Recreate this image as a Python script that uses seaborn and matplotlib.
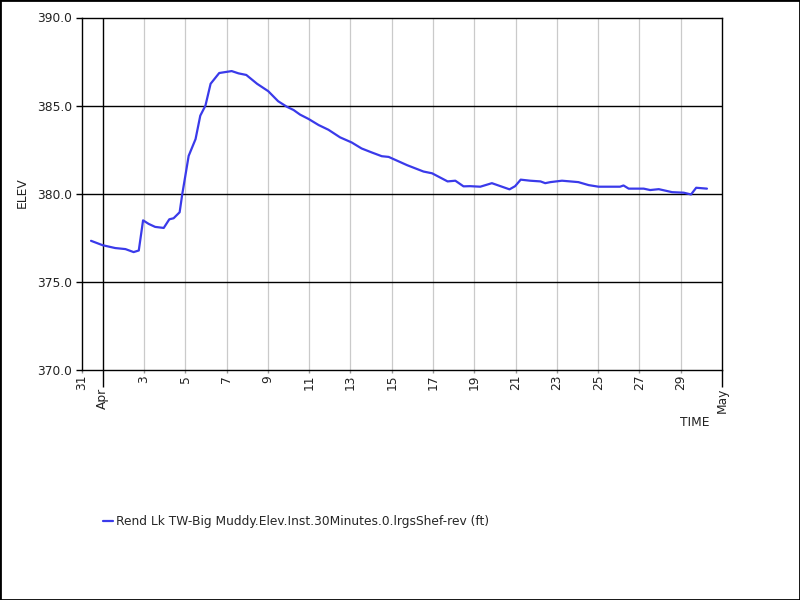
import matplotlib
matplotlib.use("Agg")
import matplotlib.pyplot as plt
import matplotlib.dates as mdates
from matplotlib.patches import Rectangle
import pandas as pd
import seaborn as sns

times = [
    "2024-03-31 10:30", "2024-04-01 00:00", "2024-04-01 14:30", "2024-04-02 02:30",
    "2024-04-02 12:00", "2024-04-02 18:00", "2024-04-02 23:00", "2024-04-03 05:30",
    "2024-04-03 13:00", "2024-04-03 23:00", "2024-04-04 05:30", "2024-04-04 10:30",
    "2024-04-04 17:30", "2024-04-04 20:30", "2024-04-05 04:00", "2024-04-05 12:00",
    "2024-04-05 17:30", "2024-04-05 23:30", "2024-04-06 05:30", "2024-04-06 15:30",
    "2024-04-07 06:00", "2024-04-07 14:00", "2024-04-07 23:00", "2024-04-08 11:30",
    "2024-04-09 00:30", "2024-04-09 12:00", "2024-04-09 22:00", "2024-04-10 06:00",
    "2024-04-10 13:30", "2024-04-10 23:30", "2024-04-11 11:00", "2024-04-11 22:30",
    "2024-04-12 12:00", "2024-04-13 01:30", "2024-04-13 13:00", "2024-04-14 01:00",
    "2024-04-14 12:30", "2024-04-14 20:30", "2024-04-15 18:00", "2024-04-16 13:00",
    "2024-04-16 23:00", "2024-04-17 17:00", "2024-04-18 02:00", "2024-04-18 11:30",
    "2024-04-18 19:00", "2024-04-19 07:00", "2024-04-19 20:30", "2024-04-20 17:00",
    "2024-04-20 23:30", "2024-04-21 06:00", "2024-04-21 17:00", "2024-04-22 05:00",
    "2024-04-22 10:30", "2024-04-22 16:30", "2024-04-23 06:00", "2024-04-24 01:00",
    "2024-04-24 13:00", "2024-04-25 00:30", "2024-04-26 01:30", "2024-04-26 05:30",
    "2024-04-26 11:30", "2024-04-27 05:00", "2024-04-27 12:30", "2024-04-27 22:30",
    "2024-04-28 14:00", "2024-04-29 03:30", "2024-04-29 12:00", "2024-04-29 18:00",
    "2024-04-30 06:30",
]
elev = [
    377.33, 377.08, 376.92, 376.86,
    376.69, 376.78, 378.49, 378.29,
    378.12, 378.06, 378.55, 378.61,
    378.95, 379.96, 382.15, 383.10,
    384.43, 385.00, 386.24, 386.85,
    386.96, 386.83, 386.74, 386.24,
    385.82, 385.25, 384.94, 384.75,
    384.49, 384.24, 383.90, 383.63,
    383.20, 382.91, 382.57, 382.34,
    382.13, 382.09, 381.62, 381.26,
    381.16, 380.70, 380.74, 380.42,
    380.43, 380.40, 380.60, 380.25,
    380.43, 380.80, 380.74, 380.70,
    380.60, 380.66, 380.74, 380.66,
    380.49, 380.40, 380.40, 380.47,
    380.29, 380.29, 380.21, 380.26,
    380.09, 380.06, 379.96, 380.34,
    380.29,
]
series_name = "Rend Lk TW-Big Muddy.Elev.Inst.30Minutes.0.lrgsShef-rev (ft)"

x_start, x_end = "2024-03-31", "2024-05-01"
day_ticks = ["2024-03-31"] + [f"2024-04-{d:02d}" for d in range(3, 30, 2)]
day_labels = ["31"] + [str(d) for d in range(3, 30, 2)]
month_ticks = ["2024-04-01", "2024-05-01"]
month_labels = ["Apr", "May"]
y_ticks = [370, 375, 380, 385, 390]

FS = 8.8

sns.set_theme(style="white")
plt.rcParams["font.family"] = ["DejaVu Sans"]

df = pd.DataFrame({"time": pd.to_datetime(times), "elev": elev})

fig = plt.figure(figsize=(8, 6), dpi=100)
ax = fig.add_axes([82 / 800, 1 - 370 / 600, 640 / 800, 352.5 / 600])

sns.lineplot(data=df, x="time", y="elev", ax=ax, color="#3a3aea",
             linewidth=1.6, label=series_name)

ax.set_xlim(pd.Timestamp(x_start), pd.Timestamp(x_end))
ax.set_ylim(370, 390)

# odd-day grey gridlines, black month boundary
for t in day_ticks[1:]:
    ax.axvline(pd.Timestamp(t), color="#cacaca", linewidth=0.9, zorder=0)
ax.axvline(pd.Timestamp(month_ticks[0]), color="black", linewidth=1, zorder=0)
for v in y_ticks[1:-1]:
    ax.axhline(v, color="black", linewidth=1, zorder=0)

ax.set_xticks([mdates.date2num(pd.Timestamp(t)) for t in day_ticks])
ax.set_xticklabels(day_labels, rotation=90)
ax.set_xticks([mdates.date2num(pd.Timestamp(t)) for t in month_ticks], minor=True)
ax.set_xticklabels(month_labels, minor=True, rotation=90)
ax.set_yticks(y_ticks)
ax.set_yticklabels([f"{v:.1f}" for v in y_ticks])

ax.tick_params(axis="x", which="major", direction="out", length=2, width=1,
               color="#999999", pad=1.5, labelsize=FS, labelcolor="#222222", bottom=True)
ax.tick_params(axis="x", which="minor", direction="out", length=12, width=1,
               color="black", pad=1, labelsize=FS, labelcolor="#222222", bottom=True)
ax.tick_params(axis="y", direction="out", length=4, width=1, color="black",
               pad=3, labelsize=FS, labelcolor="#222222", left=True)

for s in ax.spines.values():
    s.set_color("black")
    s.set_linewidth(1)

ax.set_xlabel("")
ax.set_ylabel("")
fig.text(22 / 800, 1 - 193 / 600, "ELEV", rotation=90, ha="center", va="center",
         fontsize=FS, color="#222222")
fig.text(695 / 800, 1 - 423 / 600, "TIME", ha="center", va="center",
         fontsize=FS, color="#222222")

ax.legend(loc="center left", bbox_to_anchor=(103 / 800, 1 - 522 / 600),
          bbox_transform=fig.transFigure, frameon=False, fontsize=FS,
          handlelength=0.8, handletextpad=0.3, borderpad=0, borderaxespad=0)

fig.patches.append(Rectangle((0, 0), 1, 1, transform=fig.transFigure, fill=False,
                             edgecolor="black", linewidth=2))

fig.savefig("out.png", dpi=100)
